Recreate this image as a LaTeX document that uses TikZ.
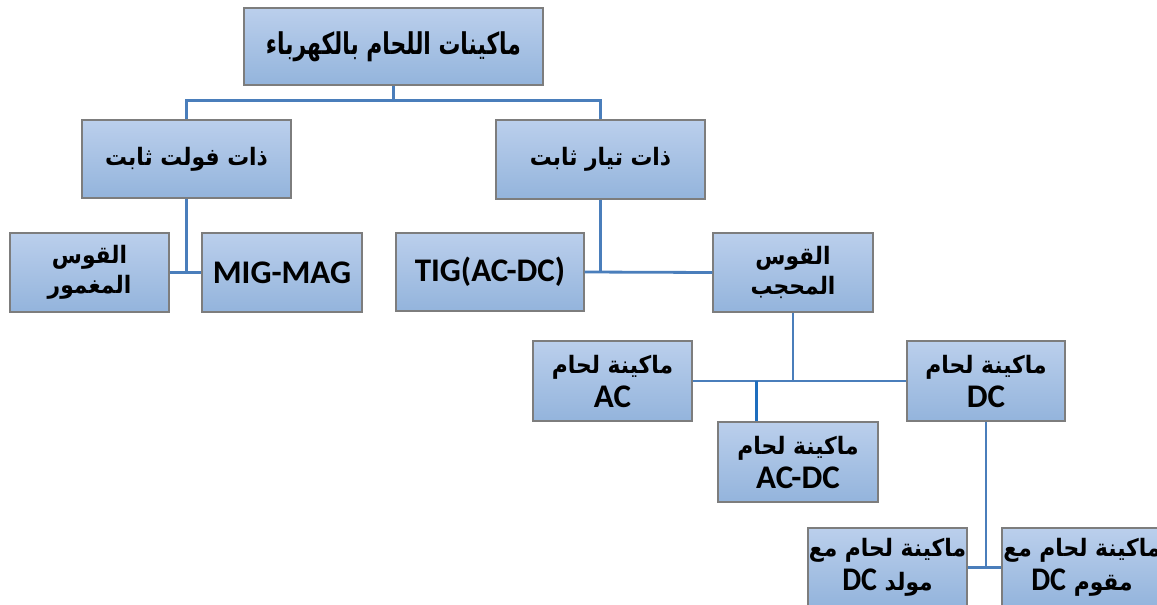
\documentclass[tikz,border=0pt]{standalone}
\usepackage{fontspec}
\TeXXeTstate=1
\newfontfamily\arabicfont[Script=Arabic]{DejaVu Sans}
\newfontfamily\latinfont{Carlito}
\newcommand{\AR}[1]{\scalebox{0.91}[1]{\arabicfont\bfseries\beginR #1\endR}}
\newcommand{\LA}[1]{{\fontsize{33}{36}\selectfont\latinfont\bfseries #1}}
\definecolor{boxtop}{RGB}{187,207,236}
\definecolor{boxbot}{RGB}{147,180,220}
\definecolor{boxline}{RGB}{125,125,125}
\definecolor{conn}{RGB}{74,126,187}
\definecolor{connd}{RGB}{30,110,190}
\tikzset{
  box/.style={rectangle, draw=boxline, line width=1.1pt, top color=boxtop, bottom color=boxbot, inner sep=0pt, align=center, font=\fontsize{24}{34}\selectfont},
  arab2/.style={font=\fontsize{24}{30}\selectfont},
  conline/.style={draw=conn, line width=2.8pt},
}
\begin{document}
\begin{tikzpicture}[x=1pt,y=-1pt]
\useasboundingbox (0,0) rectangle (1157,605);
\clip (0,0) rectangle (1157,605);
\node[box, minimum width=299pt, minimum height=77pt] (n1) at (393.5,46.5) {\scalebox{0.8}[1]{\fontsize{30}{34}\selectfont\AR{ماكينات اللحام بالكهرباء}}};
\node[box, minimum width=209pt, minimum height=78pt] (n2) at (186.5,159) {\AR{ذات فولت ثابت}};
\node[box, minimum width=209pt, minimum height=79pt] (n3) at (600.5,159.5) {\AR{ذات تيار ثابت}};
\node[box, arab2, minimum width=159pt, minimum height=79pt] (mog) at (89.5,272.5) {\AR{القوس}\\\AR{المغمور}};
\node[box, minimum width=160pt, minimum height=79pt] (mig) at (282,272.5) {\LA{MIG-MAG}};
\node[box, minimum width=188pt, minimum height=78pt] (tig) at (490,272) {\LA{TIG(AC-DC)}};
\node[box, arab2, minimum width=160pt, minimum height=79pt] (mah) at (793,272.5) {\AR{القوس}\\\AR{المحجب}};
\node[box, minimum width=159pt, minimum height=80pt] (ac) at (612.5,381) {\AR{ماكينة لحام}\\\LA{AC}};
\node[box, minimum width=160pt, minimum height=80pt] (acdc) at (798,462) {\AR{ماكينة لحام}\\\LA{AC-DC}};
\node[box, minimum width=158pt, minimum height=80pt] (dc) at (986,381) {\AR{ماكينة لحام}\\\LA{DC}};
\node[box, minimum width=159pt, minimum height=79pt] (bl) at (887.5,567.5) {\AR{ماكينة لحام مع}\\\AR{مولد \beginL\LA{DC}\endL}};
\node[box, minimum width=160pt, minimum height=79pt] (br) at (1082,567.5) {\AR{ماكينة لحام مع}\\\AR{مقوم \beginL\LA{DC}\endL}};
% connectors
\draw[conline] (n1.south) -- ++(0,15) coordinate (j1);
\draw[conline] (n2.north) |- (j1) -| (n3.north);
\draw[conline] (n2.south) -- (n2.south |- mig.west);
\draw[conline] (mog.east) -- (mig.west);
\draw[conline] (n3.south) -- (n3.south |- tig.east);
\draw[conline] (tig.east) -- (mah.west);
\draw[conline] (mah.south) -- (mah.south |- ac.east);
\draw[conline] (ac.east) -- (dc.west);
\draw[draw=connd, line width=3.4pt] ([xshift=39pt]acdc.north west) coordinate (t1) -- (t1 |- ac.east);
\draw[conline] (dc.south) -- (dc.south |- bl.east);
\draw[conline] (bl.east) -- (br.west);
\end{tikzpicture}
\end{document}
